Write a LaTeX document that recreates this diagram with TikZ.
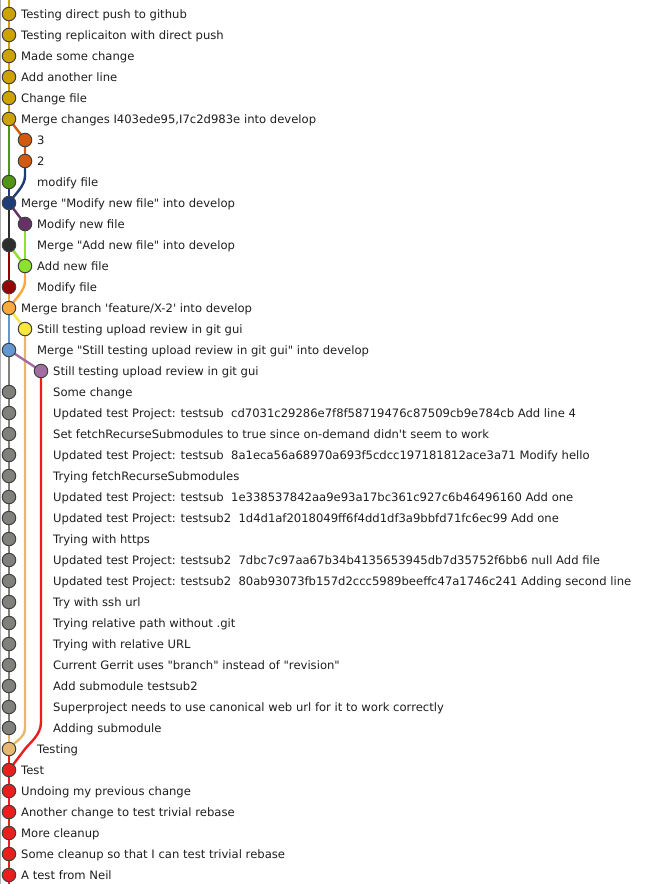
\documentclass[tikz,border=0pt]{standalone}
\usepackage{fontspec}
\setmainfont{DejaVu Sans}[Ligatures=TeXOff]
\usetikzlibrary{backgrounds}
\definecolor{cgold}{RGB}{204,163,0}
\definecolor{cgreen}{RGB}{80,150,20}
\definecolor{corange}{RGB}{210,90,10}
\definecolor{cdblue}{RGB}{30,60,120}
\definecolor{cpurple}{RGB}{100,50,100}
\definecolor{cdgray}{RGB}{45,45,45}
\definecolor{clgreen}{RGB}{140,225,50}
\definecolor{cdred}{RGB}{150,0,0}
\definecolor{cmorange}{RGB}{250,170,60}
\definecolor{cyellow}{RGB}{250,230,60}
\definecolor{clblue}{RGB}{100,150,210}
\definecolor{cmauve}{RGB}{160,110,160}
\definecolor{cgray}{RGB}{128,128,124}
\definecolor{ctan}{RGB}{230,185,110}
\definecolor{cred}{RGB}{235,30,30}
\definecolor{ctext}{RGB}{30,30,30}
\definecolor{cframe}{RGB}{176,176,176}
\tikzset{
  commit/.style={circle,draw=black!75,line width=1pt,minimum size=13.5pt,inner sep=0pt},
  msg/.style={anchor=base west,inner sep=0pt,text=ctext,font=\fontsize{11.6}{13}\selectfont},
  edge/.style={line width=2.4pt},
}
\newcommand\gcommit[6]{%
  \node[commit,fill=#4] (#1) at (#2,#3) {};
  \node[msg] (#1t) at (#5,#3+4.5) {#6};
}
\begin{document}
\begin{tikzpicture}[x=1pt,y=-1pt]
\useasboundingbox (0,0) rectangle (661,884);
\draw[cframe,line width=1pt] (0.5,0) -- (0.5,884);
\coordinate (top) at (9,0);
\coordinate (bot) at (9,884);
\gcommit{c1}{9}{14}{cgold}{21}{Testing direct push to github}
\gcommit{c2}{9}{35}{cgold}{21}{Testing replicaiton with direct push}
\gcommit{c3}{9}{56}{cgold}{21}{Made some change}
\gcommit{c4}{9}{77}{cgold}{21}{Add another line}
\gcommit{c5}{9}{98}{cgold}{21}{Change file}
\gcommit{c6}{9}{119}{cgold}{21}{Merge changes I403ede95,I7c2d983e into develop}
\gcommit{c7}{25}{140}{corange}{37}{3}
\gcommit{c8}{25}{161}{corange}{37}{2}
\gcommit{c9}{9}{182}{cgreen}{37}{modify file}
\gcommit{c10}{9}{203}{cdblue}{21}{Merge "Modify new file" into develop}
\gcommit{c11}{25}{224}{cpurple}{37}{Modify new file}
\gcommit{c12}{9}{245}{cdgray}{37}{Merge "Add new file" into develop}
\gcommit{c13}{25}{266}{clgreen}{37}{Add new file}
\gcommit{c14}{9}{287}{cdred}{37}{Modify file}
\gcommit{c15}{9}{308}{cmorange}{21}{Merge branch 'feature/X-2' into develop}
\gcommit{c16}{25}{329}{cyellow}{37}{Still testing upload review in git gui}
\gcommit{c17}{9}{350}{clblue}{37}{Merge "Still testing upload review in git gui" into develop}
\gcommit{c18}{41}{371}{cmauve}{53}{Still testing upload review in git gui}
\gcommit{c19}{9}{392}{cgray}{53}{Some change}
\gcommit{c20}{9}{413}{cgray}{53}{Updated test Project: testsub\ \ cd7031c29286e7f8f58719476c87509cb9e784cb Add line 4}
\gcommit{c21}{9}{434}{cgray}{53}{Set fetchRecurseSubmodules to true since on-demand didn't seem to work}
\gcommit{c22}{9}{455}{cgray}{53}{Updated test Project: testsub\ \ 8a1eca56a68970a693f5cdcc197181812ace3a71 Modify hello}
\gcommit{c23}{9}{476}{cgray}{53}{Trying fetchRecurseSubmodules}
\gcommit{c24}{9}{497}{cgray}{53}{Updated test Project: testsub\ \ 1e338537842aa9e93a17bc361c927c6b46496160 Add one}
\gcommit{c25}{9}{518}{cgray}{53}{Updated test Project: testsub2\ \ 1d4d1af2018049ff6f4dd1df3a9bbfd71fc6ec99 Add one}
\gcommit{c26}{9}{539}{cgray}{53}{Trying with https}
\gcommit{c27}{9}{560}{cgray}{53}{Updated test Project: testsub2\ \ 7dbc7c97aa67b34b4135653945db7d35752f6bb6 null Add file}
\gcommit{c28}{9}{581}{cgray}{53}{Updated test Project: testsub2\ \ 80ab93073fb157d2ccc5989beeffc47a1746c241 Adding second line}
\gcommit{c29}{9}{602}{cgray}{53}{Try with ssh url}
\gcommit{c30}{9}{623}{cgray}{53}{Trying relative path without .git}
\gcommit{c31}{9}{644}{cgray}{53}{Trying with relative URL}
\gcommit{c32}{9}{665}{cgray}{53}{Current Gerrit uses "branch" instead of "revision"}
\gcommit{c33}{9}{686}{cgray}{53}{Add submodule testsub2}
\gcommit{c34}{9}{707}{cgray}{53}{Superproject needs to use canonical web url for it to work correctly}
\gcommit{c35}{9}{728}{cgray}{53}{Adding submodule}
\gcommit{c36}{9}{749}{ctan}{37}{Testing}
\gcommit{c37}{9}{770}{cred}{21}{Test}
\gcommit{c38}{9}{791}{cred}{21}{Undoing my previous change}
\gcommit{c39}{9}{812}{cred}{21}{Another change to test trivial rebase}
\gcommit{c40}{9}{833}{cred}{21}{More cleanup}
\gcommit{c41}{9}{854}{cred}{21}{Some cleanup so that I can test trivial rebase}
\gcommit{c42}{9}{875}{cred}{21}{A test from Neil}
\begin{pgfonlayer}{background}
\draw[edge,cgold] (top) -- (c1.center) -- (c2.center) -- (c3.center) -- (c4.center) -- (c5.center) -- (c6.center);
\draw[edge,cgreen] (c6.center) -- (c9.center);
\draw[edge,corange] (c6.center) -- (c7.center) -- (c8.center);
\draw[edge,cdblue] (c9.center) -- (c10.center);
\draw[edge,cdblue] (c8.center) -- (25,176) .. controls (25,186) and (15,194) .. (c10.center);
\draw[edge,cpurple] (c10.center) -- (c11.center);
\draw[edge,cdgray] (c10.center) -- (c12.center);
\draw[edge,clgreen] (c11.center) -- (c13.center);
\draw[edge,clgreen] (c12.center) -- (c13.center);
\draw[edge,cdred] (c12.center) -- (c14.center);
\draw[edge,cmorange] (c14.center) -- (c15.center);
\draw[edge,cmorange] (c13.center) -- (25,281) .. controls (25,291) and (15,299) .. (c15.center);
\draw[edge,cyellow] (c15.center) -- (c16.center);
\draw[edge,clblue] (c15.center) -- (c17.center);
\draw[edge,ctan] (c16.center) -- (25,728) .. controls (25,738) and (15,741) .. (c36.center);
\draw[edge,cmauve] (c17.center) -- (c18.center);
\draw[edge,cgray] (c17.center) -- (c19.center) -- (c20.center) -- (c21.center) -- (c22.center) -- (c23.center) -- (c24.center) -- (c25.center) -- (c26.center) -- (c27.center) -- (c28.center) -- (c29.center) -- (c30.center) -- (c31.center) -- (c32.center) -- (c33.center) -- (c34.center) -- (c35.center);
\draw[edge,ctan] (c35.center) -- (c36.center);
\draw[edge,cred] (c18.center) -- (41,722) .. controls (41,735) and (30,742.5) .. (25,749) -- (c37.center);
\draw[edge,cred] (c36.center) -- (c37.center) -- (c38.center) -- (c39.center) -- (c40.center) -- (c41.center) -- (c42.center) -- (bot);
\end{pgfonlayer}
\end{tikzpicture}
\end{document}
